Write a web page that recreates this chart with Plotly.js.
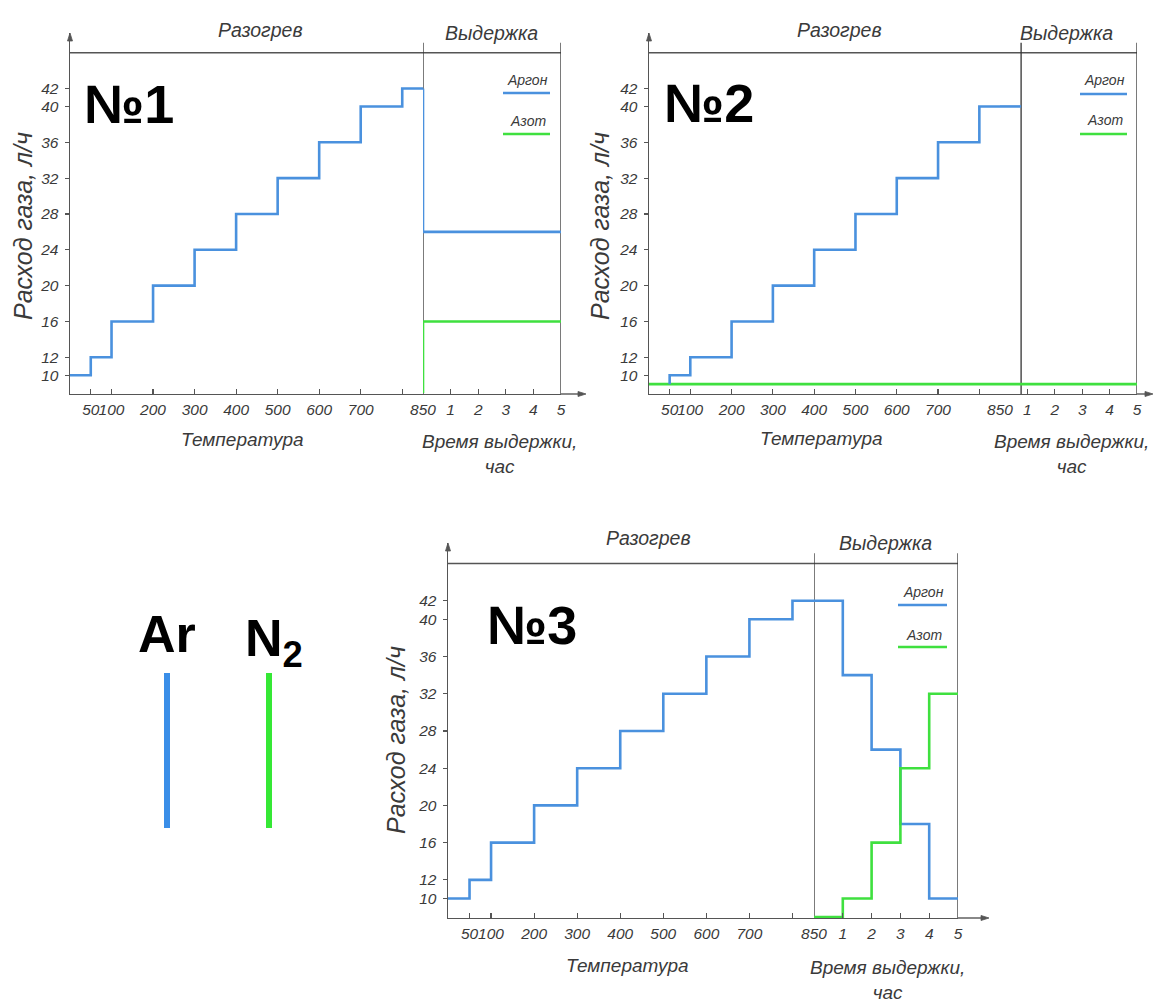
<!DOCTYPE html>
<html>
<head>
<meta charset="utf-8">
<script src="https://cdn.plot.ly/plotly-3.0.1.min.js"></script>
<style>html,body{margin:0;padding:0;background:#fff;}#chart{width:1154px;height:1008px;}</style>
</head>
<body>
<div id="chart"></div>
<script>
// ---------- DATA ----------
const tempTicks = [50, 100, 200, 300, 400, 500, 600, 700, 850];
const tempTickText = ['50', '100', '200', '300', '400', '500', '600', '700', '850'];
const tempMinorTicks = [800];
const hourTicks = [1, 2, 3, 4, 5];
const hourTickText = ['1', '2', '3', '4', '5'];
const flowTicks = [10, 12, 16, 20, 24, 28, 32, 36, 40, 42];

// Chart №1
const c1ArHeatT = [0, 50, 100, 200, 300, 400, 500, 600, 700, 800, 850];
const c1ArHeatV = [10, 12, 16, 20, 24, 28, 32, 36, 40, 42, 42];
const c1ArHoldH = [0, 0, 5];
const c1ArHoldV = [42, 26, 26];
const c1N2HoldH = [0, 0, 5];
const c1N2HoldV = [8, 16, 16];

// Chart №2
const c2ArHeatT = [50, 50, 100, 200, 300, 400, 500, 600, 700, 800, 850];
const c2ArHeatV = [9, 10, 12, 16, 20, 24, 28, 32, 36, 40, 40];
const c2ArHoldH = [0, 0.77];
const c2ArHoldV = [40, 40];
const c2N2HeatT = [0, 850];
const c2N2HeatV = [9, 9];
const c2N2HoldH = [0, 5];
const c2N2HoldV = [9, 9];

// Chart №3
const c3ArHeatT = [0, 50, 100, 200, 300, 400, 500, 600, 700, 800, 850];
const c3ArHeatV = [10, 12, 16, 20, 24, 28, 32, 36, 40, 42, 42];
const c3ArHoldH = [0, 1, 2, 3, 4, 5];
const c3ArHoldV = [42, 34, 26, 18, 10, 10];
const c3N2HoldH = [0, 1, 2, 3, 4, 5];
const c3N2HoldV = [8, 10, 16, 24, 32, 32];

const sectionLabels = ['Разогрев', 'Выдержка'];
const chartLabels = ['№1', '№2', '№3'];
const legendNames = ['Аргон', 'Азот'];
const gasLabels = ['Ar', 'N<sub>2</sub>'];
const xTitleTemp = 'Температура';
const xTitleHold = 'Время выдержки,<br>час';
const yTitle = 'Расход газа, л/ч';

// ---------- STYLE / LAYOUT ----------
const W = 1154, H = 1008;
const BLUE = '#4a91de', GREEN = '#3fe03f', AXIS = '#555555', TXT = '#3a3a3a';
const CAD = 'Liberation Sans, Arial, sans-serif';
const px = p => p / W;
const py = p => 1 - p / H;

const Y_RANGE = [7.9, 48.2];
const Y_TOP_LINE = 46, Y_DIV_TOP = 47.1;

const charts = [
  {temp: [70, 423], hold: [423, 561], y: [33, 394], divider: 0, xEnd: 586,
   sec: [[260, 30], [491, 33]], num: [129, 103], leg: [503, 550, 80, 93, 121, 134],
   tT: [242, 439], tH: [499, 454], yT: [23, 226]},
  {temp: [649, 1000], hold: [1000, 1137], y: [33, 394], divider: 0.77, xEnd: 1153,
   sec: [[839, 30], [1066, 33]], num: [709, 102], leg: [1080, 1127, 80, 94, 120, 134],
   tT: [821, 438], tH: [1071, 454], yT: [600, 226]},
  {temp: [448, 814], hold: [814, 958], y: [543, 918], divider: 0, xEnd: 989,
   sec: [[648, 538], [885, 543]], num: [532, 624], leg: [898, 947, 592, 605, 635, 647],
   tT: [627, 965], tH: [888, 980], yT: [396, 740]}
];

const tickFont = {family: CAD, size: 15.5, color: TXT, style: 'italic'};
const layout = {
  width: W, height: H,
  margin: {l: 0, r: 0, t: 0, b: 0},
  paper_bgcolor: '#ffffff', plot_bgcolor: 'rgba(0,0,0,0)',
  showlegend: false,
  shapes: [], annotations: []
};

function ann(x, y, text, font, extra) {
  return Object.assign({xref: 'paper', yref: 'paper', x: px(x), y: py(y), text: text,
    showarrow: false, xanchor: 'center', yanchor: 'middle', font: font}, extra || {});
}
function pathPx(pts) {
  return pts.map((p, k) => (k ? 'L' : 'M') + px(p[0]).toFixed(5) + ',' + py(p[1]).toFixed(5)).join(' ') + ' Z';
}

charts.forEach((c, i) => {
  const n = i + 1;
  const xtRef = 'x' + (i === 0 ? '' : (2 * i + 1));
  const xhRef = 'x' + (2 * i + 2);
  const yRef = 'y' + (n === 1 ? '' : n);
  const xt = 'xaxis' + (i === 0 ? '' : (2 * i + 1));
  const xh = 'xaxis' + (2 * i + 2);
  const ya = 'yaxis' + (n === 1 ? '' : n);
  c.refs = {xt: xtRef, xh: xhRef, y: yRef};
  const xBase = {showgrid: false, zeroline: false, showline: true, linecolor: AXIS, linewidth: 1.4,
    ticks: 'inside', ticklen: 5, tickwidth: 1.2, tickcolor: AXIS, tickfont: tickFont,
    tickangle: 0, anchor: yRef, fixedrange: true, ticklabelstandoff: 1};
  layout[xt] = Object.assign({}, xBase, {domain: [px(c.temp[0]), px(c.temp[1])], range: [0, 850],
    tickmode: 'array', tickvals: tempTicks, ticktext: tempTickText,
    minor: {tickmode: 'array', tickvals: tempMinorTicks, ticks: 'inside', ticklen: 5,
      tickwidth: 1.2, tickcolor: AXIS, showgrid: false}});
  layout[xh] = Object.assign({}, xBase, {domain: [px(c.hold[0]), px(c.hold[1])], range: [0, 5],
    tickmode: 'array', tickvals: hourTicks, ticktext: hourTickText});
  layout[ya] = {domain: [py(c.y[1]), py(c.y[0])], range: Y_RANGE, anchor: xtRef,
    showgrid: false, zeroline: false, showline: true, linecolor: AXIS, linewidth: 1.4,
    ticks: 'outside', ticklen: 4, tickwidth: 1.2, tickcolor: AXIS, tickfont: tickFont,
    tickmode: 'array', tickvals: flowTicks, ticklabelstandoff: 3, fixedrange: true};

  // frame lines
  layout.shapes.push({type: 'line', layer: 'below', xref: 'paper', yref: yRef,
    x0: px(c.temp[0]), x1: px(c.hold[1]), y0: Y_TOP_LINE, y1: Y_TOP_LINE,
    line: {color: AXIS, width: 1.4}});
  layout.shapes.push({type: 'line', layer: 'below', xref: xhRef, yref: yRef,
    x0: c.divider, x1: c.divider, y0: Y_RANGE[0], y1: Y_DIV_TOP, line: {color: '#333', width: 1.3}});
  layout.shapes.push({type: 'line', layer: 'below', xref: xhRef, yref: yRef,
    x0: 5, x1: 5, y0: Y_RANGE[0], y1: Y_DIV_TOP, line: {color: '#333', width: 1.3}});

  // axis arrows
  const yb = c.y[1], yt = c.y[0], x0 = c.temp[0];
  layout.shapes.push({type: 'path', xref: 'paper', yref: 'paper',
    path: pathPx([[x0 - 2.5, yt + 8], [x0, yt], [x0 + 2.5, yt + 8]]),
    fillcolor: AXIS, line: {color: AXIS, width: 0.8}});
  layout.shapes.push({type: 'line', xref: 'paper', yref: 'paper',
    x0: px(c.hold[1]), x1: px(c.xEnd - 4), y0: py(yb), y1: py(yb), line: {color: AXIS, width: 1.4}});
  layout.shapes.push({type: 'path', xref: 'paper', yref: 'paper',
    path: pathPx([[c.xEnd - 8, yb - 2.5], [c.xEnd, yb], [c.xEnd - 8, yb + 2.5]]),
    fillcolor: AXIS, line: {color: AXIS, width: 0.8}});

  // section labels
  const secFont = {family: CAD, size: 19.5, color: TXT, style: 'italic'};
  layout.annotations.push(ann(c.sec[0][0], c.sec[0][1], sectionLabels[0], secFont));
  layout.annotations.push(ann(c.sec[1][0], c.sec[1][1], sectionLabels[1], secFont));
  // chart number
  layout.annotations.push(ann(c.num[0], c.num[1] + 1, chartLabels[i],
    {family: CAD, size: 54, color: '#000', weight: 'bold'}));
  // legend
  const L = c.leg;
  const legFont = {family: CAD, size: 14, color: TXT, style: 'italic'};
  layout.annotations.push(ann((L[0] + L[1]) / 2 + 1, L[2], legendNames[0], legFont));
  layout.annotations.push(ann((L[0] + L[1]) / 2 + 1, L[4], legendNames[1], legFont));
  layout.shapes.push({type: 'line', xref: 'paper', yref: 'paper', x0: px(L[0]), x1: px(L[1]),
    y0: py(L[3]), y1: py(L[3]), line: {color: BLUE, width: 2.5}});
  layout.shapes.push({type: 'line', xref: 'paper', yref: 'paper', x0: px(L[0]), x1: px(L[1]),
    y0: py(L[5]), y1: py(L[5]), line: {color: GREEN, width: 2.5}});
  // axis titles
  const titFont = {family: CAD, size: 19, color: TXT, style: 'italic'};
  layout.annotations.push(ann(c.tT[0], c.tT[1], xTitleTemp, titFont));
  layout.annotations.push(ann(c.tH[0], c.tH[1], xTitleHold, titFont));
  layout.annotations.push(ann(c.yT[0], c.yT[1], yTitle,
    {family: CAD, size: 25, color: TXT, style: 'italic'}, {textangle: -90}));
});

// Ar / N2 key
layout.annotations.push(ann(167, 634, gasLabels[0], {family: CAD, size: 52, color: '#000', weight: 'bold'}));
layout.annotations.push(ann(274, 642, gasLabels[1], {family: CAD, size: 52, color: '#000', weight: 'bold'}));
layout.shapes.push({type: 'line', xref: 'paper', yref: 'paper', x0: px(167), x1: px(167),
  y0: py(673), y1: py(828), line: {color: '#3a8ee8', width: 6}});
layout.shapes.push({type: 'line', xref: 'paper', yref: 'paper', x0: px(269), x1: px(269),
  y0: py(673), y1: py(828), line: {color: '#35e835', width: 6}});

// ---------- TRACES ----------
function step(x, y, color, xa, ya, name) {
  return {type: 'scatter', mode: 'lines', x: x, y: y, name: name, xaxis: xa, yaxis: ya,
    line: {shape: 'hv', color: color, width: 2.6}, hoverinfo: 'skip'};
}
const r = charts.map(c => c.refs);
const data = [
  step(c1ArHeatT, c1ArHeatV, BLUE, r[0].xt, r[0].y, 'Аргон'),
  step(c1ArHoldH, c1ArHoldV, BLUE, r[0].xh, r[0].y, 'Аргон'),
  step(c1N2HoldH, c1N2HoldV, GREEN, r[0].xh, r[0].y, 'Азот'),

  step(c2N2HeatT, c2N2HeatV, GREEN, r[1].xt, r[1].y, 'Азот'),
  step(c2N2HoldH, c2N2HoldV, GREEN, r[1].xh, r[1].y, 'Азот'),
  step(c2ArHeatT, c2ArHeatV, BLUE, r[1].xt, r[1].y, 'Аргон'),
  step(c2ArHoldH, c2ArHoldV, BLUE, r[1].xh, r[1].y, 'Аргон'),

  step(c3ArHeatT, c3ArHeatV, BLUE, r[2].xt, r[2].y, 'Аргон'),
  step(c3ArHoldH, c3ArHoldV, BLUE, r[2].xh, r[2].y, 'Аргон'),
  step(c3N2HoldH, c3N2HoldV, GREEN, r[2].xh, r[2].y, 'Азот')
];

Plotly.newPlot('chart', data, layout, {displayModeBar: false, staticPlot: true});
</script>
</body>
</html>
